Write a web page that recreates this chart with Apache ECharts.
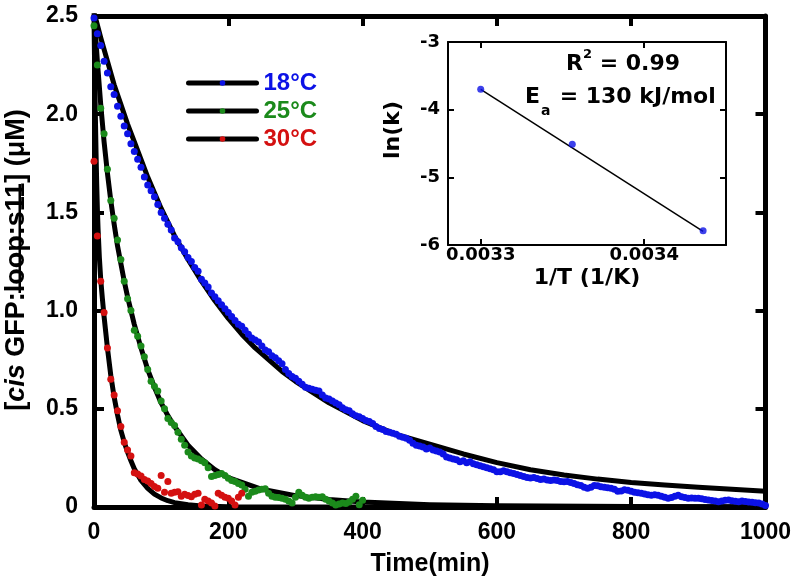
<!DOCTYPE html>
<html><head><meta charset="utf-8">
<script src="https://cdn.jsdelivr.net/npm/echarts@6/dist/echarts.min.js"></script>
<style>html,body{margin:0;padding:0;background:#fff;}#c{width:800px;height:586px;}</style>
</head><body><div id="c"></div>
<script>
// ---------- data ----------
const xTicks = [0, 200, 400, 600, 800, 1000];
const yTicks = [0, 0.5, 1.0, 1.5, 2.0, 2.5];
const seriesNames = ['18°C', '25°C', '30°C'];
const sampleStep = 5; // minutes between measured points

const blueValues = [2.49,2.41,2.35,2.27,2.21,2.14,2.10,2.04,1.99,1.94,1.90,1.85,1.81,1.77,1.73,1.68,1.64,1.61,1.58,1.54,
1.50,1.47,1.44,1.41,1.37,1.35,1.32,1.30,1.27,1.25,1.22,1.20,1.16,1.14,1.12,1.09,1.07,1.05,1.03,1.01,
0.99,0.97,0.95,0.93,0.92,0.90,0.88,0.86,0.85,0.84,0.82,0.80,0.79,0.77,0.76,0.745,0.73,0.70,0.68,0.665,
0.655,0.64,0.625,0.61,0.605,0.60,0.595,0.59,0.57,0.555,0.55,0.54,0.53,0.52,0.505,0.495,0.49,0.475,0.465,0.46,
0.45,0.44,0.435,0.425,0.41,0.40,0.395,0.385,0.38,0.375,0.37,0.36,0.355,0.35,0.34,0.325,0.315,0.31,0.305,0.295,
0.30,0.29,0.285,0.28,0.27,0.255,0.25,0.245,0.24,0.23,0.235,0.225,0.23,0.22,0.215,0.21,0.205,0.20,0.195,0.19,
0.18,0.18,0.185,0.18,0.175,0.17,0.165,0.16,0.155,0.15,0.148,0.15,0.145,0.14,0.142,0.138,0.135,0.137,0.135,0.13,
0.128,0.13,0.125,0.12,0.113,0.11,0.10,0.095,0.10,0.11,0.108,0.103,0.10,0.098,0.095,0.09,0.08,0.082,0.088,0.085,
0.08,0.075,0.073,0.07,0.066,0.062,0.06,0.063,0.06,0.055,0.05,0.045,0.048,0.055,0.06,0.052,0.048,0.044,0.046,0.045,
0.044,0.042,0.038,0.036,0.033,0.03,0.027,0.03,0.035,0.036,0.032,0.029,0.027,0.03,0.028,0.026,0.024,0.022,0.02,0.015,
0.008];
const greenValues = [2.45,2.25,2.03,1.90,1.72,1.56,1.47,1.36,1.26,1.15,1.06,1.00,0.90,0.87,0.82,0.765,0.70,0.64,0.615,0.59,
0.54,0.50,0.45,0.43,0.415,0.38,0.345,0.315,0.28,0.26,0.25,0.245,0.235,0.225,0.20,0.155,0.16,0.165,0.17,0.16,
0.146,0.135,0.13,0.12,0.112,0.09,0.055,0.075,0.08,0.087,0.09,0.093,0.07,0.055,0.05,0.048,0.045,0.04,0.03,0.02,
0.05,0.075,0.06,0.05,0.045,0.05,0.052,0.05,0.052,0.04,0.03,0.02,0.01,0.015,0.02,0.018,0.025,0.04,0.055,0.012,
0.035];
const redValues = [1.76,1.38,1.15,0.99,0.81,0.65,0.57,0.49,0.41,0.33,0.29,0.26,0.175,0.168,0.158,0.14,0.133,0.12,0.105,0.095,
0.16,0.075,0.13,0.07,0.075,0.078,0.055,0.065,0.058,0.052,0.065,0.07,0.01,0.04,0.03,0.02,0.005,0.07,0.06,0.05,
0.045,0.03,0.01,0.05,0.07];

const blueFitTimes = [0,10,20,30,40,50,60,70,80,90,100,120,140,160,180,200,220,240,260,280,300,350,400,450,500,550,600,650,700,750,800,850,900,950,1000];
const blueFitValues = [2.52,2.39,2.27,2.15,2.05,1.95,1.86,1.77,1.68,1.60,1.52,1.38,1.26,1.15,1.05,0.96,0.88,0.81,0.75,0.69,0.64,0.53,0.44,0.37,0.32,0.27,0.226,0.19,0.163,0.142,0.125,0.112,0.100,0.09,0.08];
const greenFitTimes = [0,5,10,15,20,25,30,35,40,45,50,60,70,80,90,100,110,120,140,160,180,200,250,300,350,400,500,600,800,1000];
const greenFitValues = [2.52,2.27,2.05,1.86,1.70,1.56,1.44,1.33,1.24,1.15,1.07,0.93,0.81,0.70,0.61,0.53,0.465,0.41,0.315,0.245,0.19,0.15,0.09,0.058,0.038,0.025,0.012,0.006,0.002,0.001];
const redFitTimes = [0,1,2,3,4,5,6,8,10,12.5,15,17.5,20,25,30,35,40,45,50,55,60,70,80,90,100,110,120,140,160,200,300,1000];
const redFitValues = [2.5,2.22,2.0,1.81,1.65,1.52,1.42,1.27,1.16,1.06,0.97,0.89,0.81,0.67,0.56,0.47,0.39,0.33,0.28,0.235,0.195,0.135,0.095,0.066,0.046,0.032,0.022,0.011,0.005,0.001,0,0];

// inset: Arrhenius plot
const invT = [0.00330, 0.003356, 0.003436];
const lnK = [-3.70, -4.51, -5.79];
const lnFitX = [0.00330, 0.003436];
const lnFitY = [-3.70, -5.80];
const insetXTicks = [0.0033, 0.0034];

// ---------- styling ----------
const BLUE = '#0c12e6', GREEN = '#1b8a1b', RED = '#d41010';
const colors = [BLUE, GREEN, RED];
const MAINF = 'Liberation Sans, Arial, sans-serif';
const INSF = 'DejaVu Sans, sans-serif';

const toPairs = (vals, step) => vals.map((v, i) => [i * step, v]);
const zip = (a, b) => a.map((x, i) => [x, b[i]]);

const mainAxisLine = {show: true, onZero: false, lineStyle: {color: '#000', width: 5}};
const mainTick = {show: true, inside: true, length: 10, lineStyle: {color: '#000', width: 4}};
const mainLabel = {color: '#000', fontSize: 23, fontWeight: 'bold', fontFamily: MAINF};
const insAxisLine = {show: true, onZero: false, lineStyle: {color: '#000', width: 2}};
const insTick = {show: true, inside: true, length: 6, lineStyle: {color: '#000', width: 2}};
const insLabel = {color: '#000', fontSize: 18, fontWeight: 'bold', fontFamily: INSF};

const chart = echarts.init(document.getElementById('c'), null, {renderer: 'canvas'});

const fitData = [zip(blueFitTimes, blueFitValues), zip(greenFitTimes, greenFitValues), zip(redFitTimes, redFitValues)];
const pts = [toPairs(blueValues, sampleStep), toPairs(greenValues, sampleStep), toPairs(redValues, sampleStep)];

const series = [];
seriesNames.forEach((n, i) => {
  series.push({
    name: n, type: 'line', xAxisIndex: 0, yAxisIndex: 0, data: fitData[i],
    smooth: false, symbol: 'circle', showSymbol: false, clip: true,
    lineStyle: {color: '#000', width: 5, join: 'round', cap: 'round'}, itemStyle: {color: colors[i]}, z: 2
  });
});
seriesNames.forEach((n, i) => {
  series.push({
    name: n + ' data', type: 'scatter', xAxisIndex: 0, yAxisIndex: 0, data: pts[i],
    symbol: 'circle', symbolSize: 7, itemStyle: {color: colors[i], opacity: 1}, z: 3
  });
});
series.push({
  name: 'fit', type: 'line', xAxisIndex: 2, yAxisIndex: 2, data: zip(lnFitX, lnFitY),
  showSymbol: false, lineStyle: {color: '#000', width: 1.5}, z: 4
});
series.push({
  name: 'lnk', type: 'scatter', xAxisIndex: 2, yAxisIndex: 2, data: zip(invT, lnK),
  symbol: 'circle', symbolSize: 7, itemStyle: {color: BLUE}, z: 5
});

const option = {
  animation: false,
  backgroundColor: '#fff',
  grid: [
    {left: 94, right: 34.5, top: 16, bottom: 79, containLabel: false},
    {left: 448, right: 74, top: 42, bottom: 341, containLabel: false}
  ],
  xAxis: [
    {type: 'value', gridIndex: 0, min: 0, max: 1000, interval: 200, position: 'bottom',
     axisLine: mainAxisLine, axisTick: mainTick, splitLine: {show: false},
     axisLabel: Object.assign({margin: 14, customValues: xTicks, formatter: v => String(v)}, mainLabel)},
    {type: 'value', gridIndex: 0, min: 0, max: 1000, interval: 200, position: 'top',
     axisLine: mainAxisLine, axisTick: mainTick, splitLine: {show: false}, axisLabel: {show: false}},
    {type: 'value', gridIndex: 1, min: 0.00328, max: 0.00345, position: 'bottom',
     axisLine: insAxisLine, axisTick: Object.assign({customValues: insetXTicks}, insTick), splitLine: {show: false},
     axisLabel: Object.assign({margin: 1, customValues: insetXTicks, formatter: v => v.toFixed(4)}, insLabel)},
    {type: 'value', gridIndex: 1, min: 0.00328, max: 0.00345, position: 'top',
     axisLine: insAxisLine, axisTick: Object.assign({customValues: insetXTicks}, insTick), splitLine: {show: false},
     axisLabel: {show: false}}
  ],
  yAxis: [
    {type: 'value', gridIndex: 0, min: 0, max: 2.5, interval: 0.5, position: 'left',
     axisLine: mainAxisLine, axisTick: mainTick, splitLine: {show: false},
     axisLabel: Object.assign({margin: 16, customValues: yTicks, formatter: v => v === 0 ? '0' : v.toFixed(1)}, mainLabel)},
    {type: 'value', gridIndex: 0, min: 0, max: 2.5, interval: 0.5, position: 'right',
     axisLine: mainAxisLine, axisTick: mainTick, splitLine: {show: false}, axisLabel: {show: false}},
    {type: 'value', gridIndex: 1, min: -6, max: -3, interval: 1, position: 'left',
     axisLine: insAxisLine, axisTick: insTick, splitLine: {show: false},
     axisLabel: Object.assign({margin: 8}, insLabel)},
    {type: 'value', gridIndex: 1, min: -6, max: -3, interval: 1, position: 'right',
     axisLine: insAxisLine, axisTick: insTick, splitLine: {show: false}, axisLabel: {show: false}}
  ],
  legend: {
    show: true, orient: 'vertical', left: 181, top: 66, itemWidth: 68, itemHeight: 7, itemGap: 4,
    selectedMode: false,
    lineStyle: {width: 5, color: '#000'},
    textStyle: {fontSize: 24, fontWeight: 'bold', fontFamily: MAINF, lineHeight: 24, padding: [0, 0, 0, 2]},
    data: seriesNames.map((n, i) => ({name: n, textStyle: {color: colors[i]}}))
  },
  graphic: [
    {type: 'text', x: 17, y: 260, rotation: Math.PI / 2, z: 10,
     style: {text: '{n|[}{i|cis}{n| GFP:loop:s11] (μM)}', align: 'center', verticalAlign: 'middle',
       textAlign: 'center', textVerticalAlign: 'middle',
       rich: {n: {fontSize: 27, fontWeight: 'bold', fontFamily: MAINF, fill: '#000'},
              i: {fontSize: 27, fontWeight: 'bold', fontStyle: 'italic', fontFamily: MAINF, fill: '#000'}}}},
    {type: 'rect', z: 20, silent: true, shape: {x: 18.5, y: 184, width: 2.5, height: 109}, style: {fill: '#000'}},
    {type: 'text', x: 430, y: 564, z: 10,
     style: {text: 'Time(min)', align: 'center', verticalAlign: 'middle', textAlign: 'center', textVerticalAlign: 'middle',
       font: 'bold 25px ' + MAINF, fill: '#000'}},
    {type: 'text', x: 393, y: 130, rotation: Math.PI / 2, z: 10,
     style: {text: 'ln(k)', align: 'center', verticalAlign: 'middle', textAlign: 'center', textVerticalAlign: 'middle',
       font: 'bold 22px ' + INSF, fill: '#000'}},
    {type: 'text', x: 587, y: 278, z: 10,
     style: {text: '1/T (1/K)', align: 'center', verticalAlign: 'middle', textAlign: 'center', textVerticalAlign: 'middle',
       font: 'bold 22px ' + INSF, fill: '#000'}},
    {type: 'text', x: 566, y: 64, z: 10,
     style: {text: 'R', align: 'left', verticalAlign: 'middle', textAlign: 'left', textVerticalAlign: 'middle',
       font: 'bold 22px ' + INSF, fill: '#000'}},
    {type: 'text', x: 583, y: 55, z: 10,
     style: {text: '2', align: 'left', verticalAlign: 'middle', textAlign: 'left', textVerticalAlign: 'middle',
       font: 'bold 13px ' + INSF, fill: '#000'}},
    {type: 'text', x: 592, y: 64, z: 10,
     style: {text: ' = 0.99', align: 'left', verticalAlign: 'middle', textAlign: 'left', textVerticalAlign: 'middle',
       font: 'bold 22px ' + INSF, fill: '#000'}},
    {type: 'text', x: 525, y: 97, z: 10,
     style: {text: 'E', align: 'left', verticalAlign: 'middle', textAlign: 'left', textVerticalAlign: 'middle',
       font: 'bold 22px ' + INSF, fill: '#000'}},
    {type: 'text', x: 541, y: 111, z: 10,
     style: {text: 'a', align: 'left', verticalAlign: 'middle', textAlign: 'left', textVerticalAlign: 'middle',
       font: 'bold 14px ' + INSF, fill: '#000'}},
    {type: 'text', x: 552, y: 97, z: 10,
     style: {text: ' = 130 kJ/mol', align: 'left', verticalAlign: 'middle', textAlign: 'left', textVerticalAlign: 'middle',
       font: 'bold 22px ' + INSF, fill: '#000'}}
  ],
  series: series
};
chart.setOption(option);
</script>
</body></html>
